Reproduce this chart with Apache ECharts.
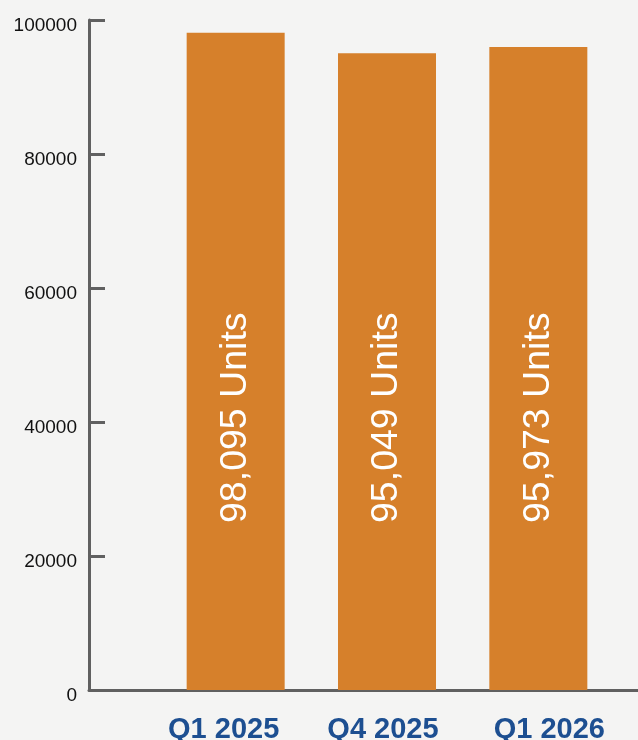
<!DOCTYPE html>
<html>
<head>
<meta charset="utf-8">
<script src="https://cdn.jsdelivr.net/npm/echarts@6/dist/echarts.min.js"></script>
<style>
html,body{margin:0;padding:0;background:#f4f4f3;}
#chart{width:638px;height:740px;}
</style>
</head>
<body>
<div id="chart"></div>
<script>
var categories = ['Q1 2025', 'Q4 2025', 'Q1 2026'];
var unitValues = [98095, 95049, 95973];
var yTicks = [0, 20000, 40000, 60000, 80000, 100000];

var labelShift = [[0, 24, 0, 0], [0, 8, 0, 0], [0, 0, 0, 22]];

var chart = echarts.init(document.getElementById('chart'), null, {renderer: 'canvas'});
chart.setOption({
  backgroundColor: '#f4f4f3',
  animation: false,
  grid: [
    {left: 89, right: -20, top: 20, bottom: 50, containLabel: false, outerBoundsMode: 'none'},
    {left: 160, right: 24, top: 20, bottom: 50, containLabel: false, outerBoundsMode: 'none'}
  ],
  xAxis: [
    {
      gridIndex: 0, type: 'category', data: [''],
      axisLine: {show: true, lineStyle: {color: '#606060', width: 3}},
      axisTick: {show: false}, axisLabel: {show: false}, splitLine: {show: false}
    },
    {
      gridIndex: 1, type: 'category',
      data: categories.map(function (c, i) {
        return {value: c, textStyle: {padding: labelShift[i]}};
      }),
      axisLine: {show: false}, axisTick: {show: false},
      axisLabel: {
        color: '#1d4f91', fontSize: 29, fontWeight: 'bold',
        fontFamily: 'Liberation Sans, Arial, sans-serif', margin: 25
      }
    }
  ],
  yAxis: [
    {
      gridIndex: 0, type: 'value', min: yTicks[0], max: yTicks[yTicks.length - 1], interval: 20000,
      axisLine: {show: true, lineStyle: {color: '#606060', width: 3}},
      axisTick: {show: true, inside: true, length: 16, lineStyle: {color: '#606060', width: 3}},
      axisLabel: {
        color: '#111', fontSize: 19, fontFamily: 'Liberation Sans, Arial, sans-serif', margin: 12,
        verticalAlign: 'top', lineHeight: 12,
        formatter: function (v) { return String(v); }
      },
      splitLine: {show: false}
    },
    {
      gridIndex: 1, type: 'value', min: yTicks[0], max: yTicks[yTicks.length - 1],
      show: false, splitLine: {show: false}
    }
  ],
  series: [{
    type: 'bar',
    xAxisIndex: 1, yAxisIndex: 1,
    data: unitValues,
    barWidth: 98,
    itemStyle: {color: '#d6802b'},
    label: {
      show: true,
      position: 'insideBottom',
      distance: 167,
      rotate: 90,
      align: 'left',
      verticalAlign: 'middle',
      color: '#ffffff',
      fontSize: 37.5,
      fontFamily: 'Liberation Sans, Arial, sans-serif',
      formatter: function (p) {
        return p.value.toLocaleString('en-US') + ' Units';
      }
    }
  }]
});
</script>
</body>
</html>
